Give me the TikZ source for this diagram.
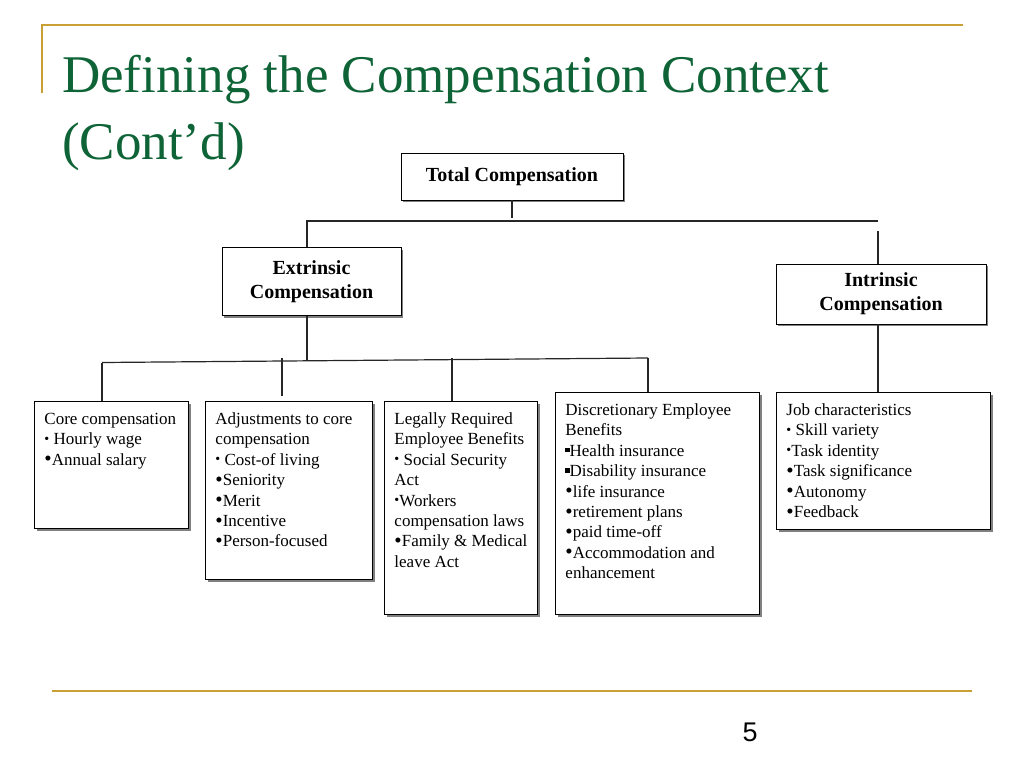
\documentclass[tikz,border=0pt]{standalone}
\usepackage{fontspec}
\setmainfont{Liberation Serif}
\newfontfamily\numfont{Liberation Sans}
\usepackage{tikz}
\usepackage{xcolor}
\usetikzlibrary{positioning}
\usetikzlibrary{shadows}
\definecolor{slidegold}{RGB}{200,160,52}
\definecolor{slidegreen}{RGB}{14,100,54}
\tikzstyle{headbox} = [rectangle, draw=black, fill=white, line width=0.9pt, text centered, align=center, inner sep=0pt, font=\bfseries\fontsize{20}{24}\selectfont, drop shadow={shadow xshift=2.2pt, shadow yshift=-2.2pt, fill=black!50, opacity=1}]
\tikzstyle{itembox} = [rectangle, draw=black, fill=white, line width=0.9pt, anchor=north west, inner xsep=10pt, inner ysep=5pt, font=\fontsize{17}{20.4}\selectfont, drop shadow={shadow xshift=2.2pt, shadow yshift=-2.2pt, fill=black!50, opacity=1}]
\tikzstyle{line} = [line width=1.2pt, black!85]
\tikzstyle{goldrule} = [line width=2.2pt, slidegold]
\newcommand{\itemlist}[3]{\parbox[t][#1][t]{#2}{\rule{0pt}{18pt}#3}}
\newcommand{\smbul}{\raisebox{1.4pt}{\fontsize{14}{14}\selectfont\textbullet}}
\newcommand{\smbulsp}{\smbul\ }
\newcommand{\bigbul}{\raisebox{-0.6pt}{\fontsize{21}{21}\selectfont\textbullet}}
\newcommand{\sqbul}{\raisebox{4pt}{\rule{4.2pt}{4.2pt}}}

\begin{document}
\begin{tikzpicture}[x=1pt, y=-1pt]
    \useasboundingbox (0,0) rectangle (1024,768);
    % slide frame
    \draw [goldrule] (42,93) -- (42,25) -- (963,25);
    \draw [goldrule, line width=2.6pt] (52,691) -- (972,691);
    \node (title) [anchor=north west, inner sep=0pt, align=left, text=slidegreen, font=\fontsize{53}{67}\selectfont] at (62,55) {Defining the Compensation Context\\(Cont’d)};
    \node (pagenum) [font=\numfont\fontsize{27}{27}\selectfont] at (750,732) {5};

    % top levels
    \node (total) [headbox, minimum width=222pt, minimum height=47pt] at (512,176.5) {Total Compensation};
    \node (extr) [headbox, minimum width=179pt, minimum height=68pt] at (311.5,281.5) {Extrinsic\\Compensation};
    \node (intr) [headbox, minimum width=210pt, minimum height=60pt] at (881,294) {Intrinsic\\Compensation};

    % bottom row
    \node (core) [itembox] at (34,401) {\itemlist{117pt}{134pt}{Core compensation\\ \smbulsp Hourly wage\\ \bigbul Annual salary}};
    \node (adj) [itembox] at (205,401) {\itemlist{168pt}{147pt}{Adjustments to core\\ compensation\\ \smbulsp Cost-of living\\ \bigbul Seniority\\ \bigbul Merit\\ \bigbul Incentive\\ \bigbul Person-focused}};
    \node (legal) [itembox] at (384,401) {\itemlist{203pt}{133pt}{Legally Required\\ Employee Benefits\\ \smbulsp Social Security\\ Act\\ \smbul Workers\\ compensation laws\\ \bigbul Family \& Medical\\ leave Act}};
    \node (disc) [itembox] at (555,392) {\itemlist{212pt}{184pt}{Discretionary Employee\\ Benefits\\ \sqbul Health insurance\\ \sqbul Disability insurance\\ \bigbul life insurance\\ \bigbul retirement plans\\ \bigbul paid time-off\\ \bigbul Accommodation and\\ enhancement}};
    \node (job) [itembox] at (776,392) {\itemlist{127pt}{194pt}{Job characteristics\\ \smbulsp Skill variety\\ \smbul Task identity\\ \bigbul Task significance\\ \bigbul Autonomy\\ \bigbul Feedback}};

    % connectors
    \coordinate (topL) at (307,221);
    \coordinate (topR) at (878,221);
    \coordinate (split) at (307,361);
    \coordinate (midL) at (102,362.5);
    \coordinate (midR) at (648,358);
    \coordinate (adjTop) at (282,358);
    \coordinate (legalTop) at (452,358);
    \draw [line] (total.south) -- ++(0,18);
    \draw [line] (topL |- extr.north) -- (topL) -- (topR);
    \draw [line] (topR |- intr.north) -- ++(0,-33);
    \draw [line] (topL |- extr.south) -- (split);
    \draw [line] (midL) -- (midR);
    \draw [line] (midL) -- (midL |- core.north);
    \draw [line] (adjTop) -- ++(0,38);
    \draw [line] (legalTop) -- (legalTop |- legal.north);
    \draw [line] (midR) -- (midR |- disc.north);
    \draw [line] (topR |- intr.south) -- (topR |- job.north);
\end{tikzpicture}
\end{document}
